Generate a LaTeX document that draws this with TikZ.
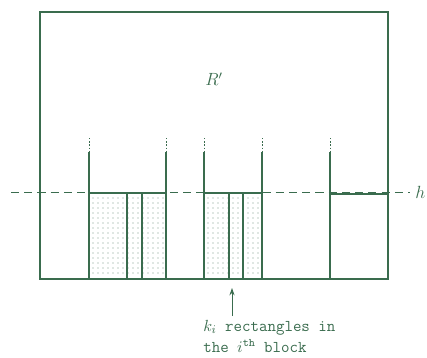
\documentclass[tikz,border=0pt]{standalone}
\usepackage{amsmath,amssymb}
\usetikzlibrary{arrows.meta}
\definecolor{ink}{RGB}{58,108,78}
\definecolor{dotink}{RGB}{120,150,132}

\begin{document}
\begin{tikzpicture}[x=0.68pt, y=-0.68pt,
    wire/.style={ink, line width=0.7pt},
    guide/.style={ink, line width=0.6pt, dash pattern=on 5.5pt off 3.5pt},
    stub/.style={ink, line width=0.6pt, dash pattern=on 1pt off 1.2pt},
    lid/.style={ink, line width=1.2pt},
    speck/.style={fill=dotink, draw=none}]
  \useasboundingbox (0,0) rectangle (427,357);
  % the big region R'
  \draw[wire] (40,12) rectangle (388,279);
  \node[ink, font=\large] (rname) at (214,79) {$R'$};
  % dotted fill of the first two blocks
  \foreach \x in {93,98,...,163}
    \foreach \y in {198,203,...,276}
      \fill[speck] (\x,\y) circle (0.35pt);
  \foreach \x in {208,213,...,259}
    \foreach \y in {198,203,...,276}
      \fill[speck] (\x,\y) circle (0.35pt);
  % block walls: dotted stub on top, then solid down to the floor
  \foreach \x in {89,166,204,262,330} {
    \draw[stub] (\x,138) -- (\x,152);
    \draw[wire] (\x,152) -- (\x,279);
  }
  % rectangles inside the blocks
  \foreach \x in {127,142,229,243}
    \draw[wire] (\x,193) -- (\x,279);
  % tops of the blocks
  \draw[lid] (89,193) -- (166,193);
  \draw[lid] (204,193) -- (262,193);
  \draw[lid] (330,194) -- (388,194);
  % the level h
  \draw[guide] (11,192) -- (410,192);
  \node[ink, anchor=west, inner sep=0pt, font=\large] (hname) at (415,192) {$h$};
  % label and pointer
  \node[ink, anchor=north west, inner sep=0pt, align=left,
        font=\fontsize{11.2}{13}\selectfont\ttfamily]
    (lbl) at (203,320) {$k_i$ rectangles in\\[1pt]the $i^{\text{th}}$ block};
  \coordinate (tip) at (232,288);
  \draw[ink, line width=0.6pt, -{Stealth[length=5pt, width=3.5pt]}]
    (232,316) -- (tip);
\end{tikzpicture}
\end{document}
